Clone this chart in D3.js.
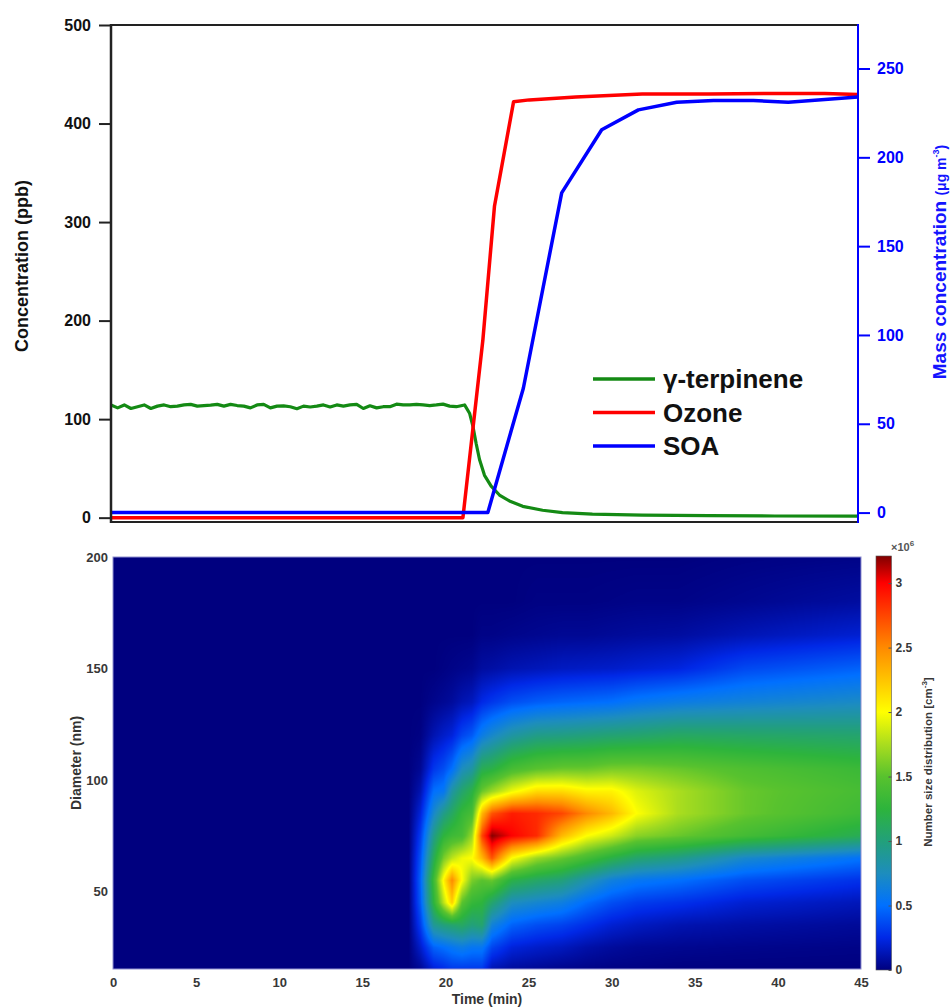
<!DOCTYPE html>
<html>
<head>
<meta charset="utf-8">
<script src="https://cdn.jsdelivr.net/npm/d3@7"></script>
<style>
  body { margin: 0; background: #fff; }
  svg { display: block; font-family: Arial, "Liberation Sans", sans-serif; }
</style>
</head>
<body>
<svg id="chart" width="951" height="1008"></svg>
<script>
// ---- top panel data ----
const terpTime = [0,0.4,0.8,1.2,1.6,2,2.4,2.8,3.2,3.6,4,4.4,4.8,5.2,5.6,6,6.4,6.8,7.2,7.6,8,8.4,8.8,9.2,9.6,10,
  10.4,10.8,11.2,11.6,12,12.4,12.8,13.2,13.6,14,14.4,14.8,15.2,15.6,16,16.4,16.8,17.2,17.6,18,18.4,18.8,19.2,19.6,
  20,20.4,20.8,21.3,21.6,21.8,22.0,22.2,22.5,22.9,23.4,24.0,24.8,26,27.2,29,32,36,40,45];
const terpValue = [114.4,111.4,114.4,110.8,112.6,114.4,110.8,113.2,114.4,112.6,113.2,114.4,115,113.2,113.8,114.2,
  115,113.2,115,113.8,113.2,111.4,114.4,115,111.4,113.2,113.5,112.6,110.6,113.2,112.3,113.2,114.4,112.3,114.4,
  113.2,114.4,115,110.8,113.5,111.4,112.6,112.6,115.2,114.4,114.4,115,114.4,113.8,114.4,115.2,113.2,112.6,114.4,
  106,93,75,59,43,32,23,17,11.5,7.5,5.2,3.5,2.5,2,1.7,1.5];
const ozoneTime = [0, 21.2, 22.4, 23.1, 24.25, 25.2, 28, 32, 36, 40, 43, 45];
const ozoneValue = [0, 0, 180, 316, 422, 424, 427, 430, 430, 430.5, 430.5, 429.5];
const soaTime = [0, 22.7, 24.84, 27.15, 29.56, 31.77, 34.08, 36.29, 38.7, 40.8, 45];
const soaValue = [0, 0, 70, 180, 215.5, 226.7, 231, 232, 232, 231, 234];
const legendNames = ["γ-terpinene", "Ozone", "SOA"];
const leftTicks = [0, 100, 200, 300, 400, 500];
const rightTicks = [0, 50, 100, 150, 200, 250];

// ---- bottom panel data: number size distribution (x10^6 cm-3) ----
const sdTime = [0, 17.8, 18.5, 19.3, 19.9, 20.4, 21.0, 21.6, 22.2, 22.8, 24, 25.5, 27, 28.5, 30, 31.5, 34, 38, 45];
const sdDiam = [15, 25, 35, 45, 55, 65, 75, 85, 95, 105, 120, 135, 150, 165, 180, 200];
// one row per time, one value per diameter
const sdValue = [
  [0,0,0,0,0,0,0,0,0,0,0,0,0,0,0,0],
  [0,0,0,0,0,0,0,0,0,0,0,0,0,0,0,0],
  [0.05,0.18,0.32,0.42,0.45,0.4,0.32,0.22,0.12,0.05,0.01,0,0,0,0,0],
  [0.2,0.45,0.9,1.25,1.35,1.15,0.95,0.7,0.5,0.3,0.12,0.03,0,0,0,0],
  [0.25,0.5,1.0,1.8,2.05,1.6,1.25,0.95,0.55,0.38,0.18,0.05,0.01,0,0,0],
  [0.3,0.55,1.05,2.2,2.5,1.8,1.35,1.1,0.85,0.5,0.22,0.07,0.02,0,0,0],
  [0.3,0.6,1.1,1.5,2.0,1.95,1.4,1.3,1.05,0.75,0.35,0.12,0.03,0,0,0],
  [0.3,0.55,1.0,1.3,1.6,2.0,1.7,1.4,1.2,0.85,0.42,0.15,0.04,0,0,0],
  [0.3,0.55,1.05,1.25,1.5,2.3,2.75,2.3,1.55,1.15,0.6,0.25,0.08,0.02,0,0],
  [0.12,0.35,0.65,1.05,1.55,2.7,3.2,2.7,1.7,1.2,0.7,0.3,0.09,0.02,0,0],
  [0.07,0.22,0.45,0.75,1.2,2.0,3.0,2.9,1.95,1.4,0.85,0.38,0.12,0.03,0,0],
  [0.05,0.18,0.38,0.68,1.08,1.7,2.85,2.85,2.15,1.5,0.95,0.43,0.14,0.04,0.01,0],
  [0.03,0.15,0.34,0.62,1.0,1.55,2.3,2.75,2.15,1.55,0.97,0.46,0.16,0.05,0.01,0],
  [0.02,0.1,0.27,0.48,0.8,1.38,2.0,2.5,2.05,1.55,1.0,0.48,0.17,0.05,0.01,0],
  [0.01,0.07,0.2,0.38,0.63,1.2,1.85,2.3,2.05,1.6,1.03,0.5,0.18,0.06,0.015,0],
  [0.01,0.05,0.16,0.32,0.55,1.05,1.65,2.0,1.9,1.6,1.05,0.55,0.2,0.07,0.02,0],
  [0,0.04,0.12,0.28,0.5,0.95,1.55,1.75,1.75,1.55,1.1,0.6,0.23,0.08,0.02,0],
  [0,0.03,0.09,0.2,0.38,0.7,1.38,1.55,1.55,1.45,1.08,0.65,0.36,0.13,0.04,0.01],
  [0,0.02,0.06,0.14,0.28,0.52,1.15,1.35,1.4,1.33,1.05,0.72,0.45,0.2,0.08,0.02]
];
const timeTicks = [0, 5, 10, 15, 20, 25, 30, 35, 40, 45];
const diamTicks = [50, 100, 150, 200];
const cbTicks = [0, 0.5, 1, 1.5, 2, 2.5, 3];

// colormap of the colour bar
const cbStops = [0, 0.25, 0.5, 0.75, 1.0, 1.25, 1.5, 1.75, 2.0, 2.25, 2.5, 2.75, 3.0, 3.21];
const cbColors = ["#00007f", "#0028e6", "#0070ff", "#1d8dbd", "#22a07a", "#2db43c", "#58c22e",
  "#aadd1e", "#ffff00", "#ffc400", "#ff8a00", "#ff4500", "#ff0000", "#800000"];

const svg = d3.select("#chart");

// ================= top panel =================
const x = d3.scaleLinear().domain([0, 45]).range([111, 858]);
const yL = d3.scaleLinear().domain([-4.4, 500]).range([522, 25]);
const yR = d3.scaleLinear().domain([-5.3, 274.5]).range([522, 25]);

const lineL = d3.line().x(d => x(d[0])).y(d => yL(d[1]));
const lineR = d3.line().x(d => x(d[0])).y(d => yR(d[1]));

svg.append("path")
  .attr("d", lineL(d3.zip(terpTime, terpValue)))
  .attr("fill", "none").attr("stroke", "#148a14").attr("stroke-width", 3.2)
  .attr("stroke-linejoin", "round");
svg.append("path")
  .attr("d", lineL(d3.zip(ozoneTime, ozoneValue)))
  .attr("fill", "none").attr("stroke", "#ff0000").attr("stroke-width", 3.5)
  .attr("stroke-linejoin", "round");
svg.append("path")
  .attr("d", lineR(d3.zip(soaTime, soaValue)))
  .attr("fill", "none").attr("stroke", "#0000ff").attr("stroke-width", 3.5)
  .attr("stroke-linejoin", "round");

// frame
svg.append("line").attr("x1", 111).attr("x2", 858).attr("y1", 25).attr("y2", 25)
  .attr("stroke", "#222").attr("stroke-width", 2);
svg.append("line").attr("x1", 111).attr("x2", 858).attr("y1", 522).attr("y2", 522)
  .attr("stroke", "#222").attr("stroke-width", 2);
svg.append("line").attr("x1", 111).attr("x2", 111).attr("y1", 24).attr("y2", 523)
  .attr("stroke", "#222").attr("stroke-width", 2.5);
svg.append("line").attr("x1", 858).attr("x2", 858).attr("y1", 24).attr("y2", 523)
  .attr("stroke", "#0000ff").attr("stroke-width", 2);

// axes
const axL = svg.append("g").attr("transform", "translate(111,0)")
  .call(d3.axisLeft(yL).tickValues(leftTicks).tickSize(12).tickPadding(8));
axL.select(".domain").remove();
axL.selectAll("line").attr("stroke", "#222").attr("stroke-width", 2);
axL.selectAll("text").attr("font-size", 16).attr("font-weight", "bold").attr("fill", "#111");

const axR = svg.append("g").attr("transform", "translate(858,0)")
  .call(d3.axisRight(yR).tickValues(rightTicks).tickSize(12).tickPadding(7));
axR.select(".domain").remove();
axR.selectAll("line").attr("stroke", "#0000ff").attr("stroke-width", 2);
axR.selectAll("text").attr("font-size", 16).attr("font-weight", "bold").attr("fill", "#0000ff");

svg.append("text").attr("transform", "translate(28,266) rotate(-90)")
  .attr("text-anchor", "middle").attr("font-size", 18).attr("font-weight", "bold")
  .attr("fill", "#111").text("Concentration (ppb)");

const rl = svg.append("text").attr("transform", "translate(946,262) rotate(-90)")
  .attr("text-anchor", "middle").attr("font-weight", "bold").attr("fill", "#1414ff");
rl.append("tspan").attr("font-size", 19).text("Mass concentration ");
rl.append("tspan").attr("font-size", 14).text("(μg m");
rl.append("tspan").attr("font-size", 9).attr("dy", -7).text("-3");
rl.append("tspan").attr("font-size", 14).attr("dy", 7).text(")");

// legend
const legColors = ["#148a14", "#ff0000", "#0000ff"];
const leg = svg.append("g").attr("transform", "translate(593,379)");
legendNames.forEach((name, i) => {
  const g = leg.append("g").attr("transform", `translate(0,${i * 33.5})`);
  g.append("line").attr("x1", 0).attr("x2", 62).attr("y1", 0).attr("y2", 0)
    .attr("stroke", legColors[i]).attr("stroke-width", 3.5);
  g.append("text").attr("x", 70).attr("y", 0).attr("dy", "0.36em")
    .attr("font-size", 26).attr("font-weight", "bold").attr("fill", "#111").text(name);
});

// ================= bottom panel =================
const hx = d3.scaleLinear().domain([0, 45]).range([113, 861]);
const hy = d3.scaleLinear().domain([15.3, 200]).range([969, 557]);
const color = d3.scaleLinear().domain(cbStops).range(cbColors).clamp(true);
const cb = d3.scaleLinear().domain([0, 3.21]).range([970, 556]);

// value at (t, d) from the grid, shaded like MATLAB "shading interp"
function sample(t, d) {
  let i = Math.max(0, Math.min(sdTime.length - 2, d3.bisectRight(sdTime, t) - 1));
  let j = Math.max(0, Math.min(sdDiam.length - 2, d3.bisectRight(sdDiam, d) - 1));
  const ft = Math.max(0, Math.min(1, (t - sdTime[i]) / (sdTime[i + 1] - sdTime[i])));
  const fd = Math.max(0, Math.min(1, (d - sdDiam[j]) / (sdDiam[j + 1] - sdDiam[j])));
  const a = sdValue[i][j], b = sdValue[i + 1][j], c = sdValue[i][j + 1], e = sdValue[i + 1][j + 1];
  return (a * (1 - ft) + b * ft) * (1 - fd) + (c * (1 - ft) + e * ft) * fd;
}

const x0 = hx.range()[0], y0 = hy.range()[1];
const W = Math.round(hx.range()[1] - x0), H = Math.round(hy.range()[0] - y0);
const lut = d3.range(0, 1001).map(k => d3.rgb(color(k / 1000 * 3.21)));
const canvas = document.createElement("canvas");
canvas.width = W; canvas.height = H;
const ctx = canvas.getContext("2d");
const img = ctx.createImageData(W, H);
for (let py = 0; py < H; py++) {
  const d = hy.invert(y0 + py + 0.5);
  for (let px = 0; px < W; px++) {
    const v = sample(hx.invert(x0 + px + 0.5), d);
    const c = lut[Math.max(0, Math.min(1000, Math.round(v / 3.21 * 1000)))];
    const k = (py * W + px) * 4;
    img.data[k] = c.r; img.data[k + 1] = c.g; img.data[k + 2] = c.b; img.data[k + 3] = 255;
  }
}
ctx.putImageData(img, 0, 0);
svg.append("image").attr("x", x0).attr("y", y0).attr("width", W).attr("height", H)
  .attr("preserveAspectRatio", "none").attr("href", canvas.toDataURL());
svg.append("rect").attr("x", x0).attr("y", y0).attr("width", W).attr("height", H)
  .attr("fill", "none").attr("stroke", "#8f8fd0").attr("stroke-width", 1);

const axB = svg.append("g").attr("transform", `translate(0,${hy.range()[0]})`)
  .call(d3.axisBottom(hx).tickValues(timeTicks).tickSize(0).tickPadding(9));
axB.select(".domain").remove();
axB.selectAll("text").attr("font-size", 13).attr("font-weight", "bold").attr("fill", "#383838");

const axD = svg.append("g").attr("transform", `translate(${x0},0)`)
  .call(d3.axisLeft(hy).tickValues(diamTicks).tickSize(0).tickPadding(5));
axD.select(".domain").remove();
axD.selectAll("text").attr("font-size", 13).attr("font-weight", "bold").attr("fill", "#383838");

svg.append("text").attr("x", 487).attr("y", 1004).attr("text-anchor", "middle")
  .attr("font-size", 14).attr("font-weight", "bold").attr("fill", "#333").text("Time (min)");
svg.append("text").attr("transform", "translate(81,763) rotate(-90)")
  .attr("text-anchor", "middle").attr("font-size", 14).attr("font-weight", "bold")
  .attr("fill", "#333").text("Diameter (nm)");

// colour bar
const grad = svg.append("defs").append("linearGradient").attr("id", "cbg")
  .attr("x1", 0).attr("y1", 1).attr("x2", 0).attr("y2", 0);
cbStops.forEach((s, i) => grad.append("stop").attr("offset", s / 3.21).attr("stop-color", cbColors[i]));
svg.append("rect").attr("x", 876).attr("y", cb(3.21)).attr("width", 15.5).attr("height", cb(0) - cb(3.21))
  .attr("fill", "url(#cbg)").attr("stroke", "#555").attr("stroke-width", 0.6);

const axC = svg.append("g").attr("transform", "translate(891.5,0)")
  .call(d3.axisRight(cb).tickValues(cbTicks).tickSize(0).tickPadding(4).tickFormat(d3.format("~g")));
axC.select(".domain").remove();
axC.selectAll("text").attr("font-size", 12).attr("font-weight", "bold").attr("fill", "#383838");
axC.selectAll(".tick").append("line").attr("x1", -3).attr("x2", 0).attr("stroke", "#555");

const ex = svg.append("text").attr("x", 891).attr("y", 551).attr("font-size", 11)
  .attr("font-weight", "bold").attr("fill", "#555");
ex.append("tspan").text("×10");
ex.append("tspan").attr("font-size", 8).attr("dy", -5).text("6");

const cl = svg.append("text").attr("transform", "translate(932,762) rotate(-90)")
  .attr("text-anchor", "middle").attr("font-weight", "bold").attr("fill", "#383838");
cl.append("tspan").attr("font-size", 11.5).text("Number size distribution [cm");
cl.append("tspan").attr("font-size", 8).attr("dy", -5).text("-3");
cl.append("tspan").attr("font-size", 11.5).attr("dy", 5).text("]");
</script>
</body>
</html>
